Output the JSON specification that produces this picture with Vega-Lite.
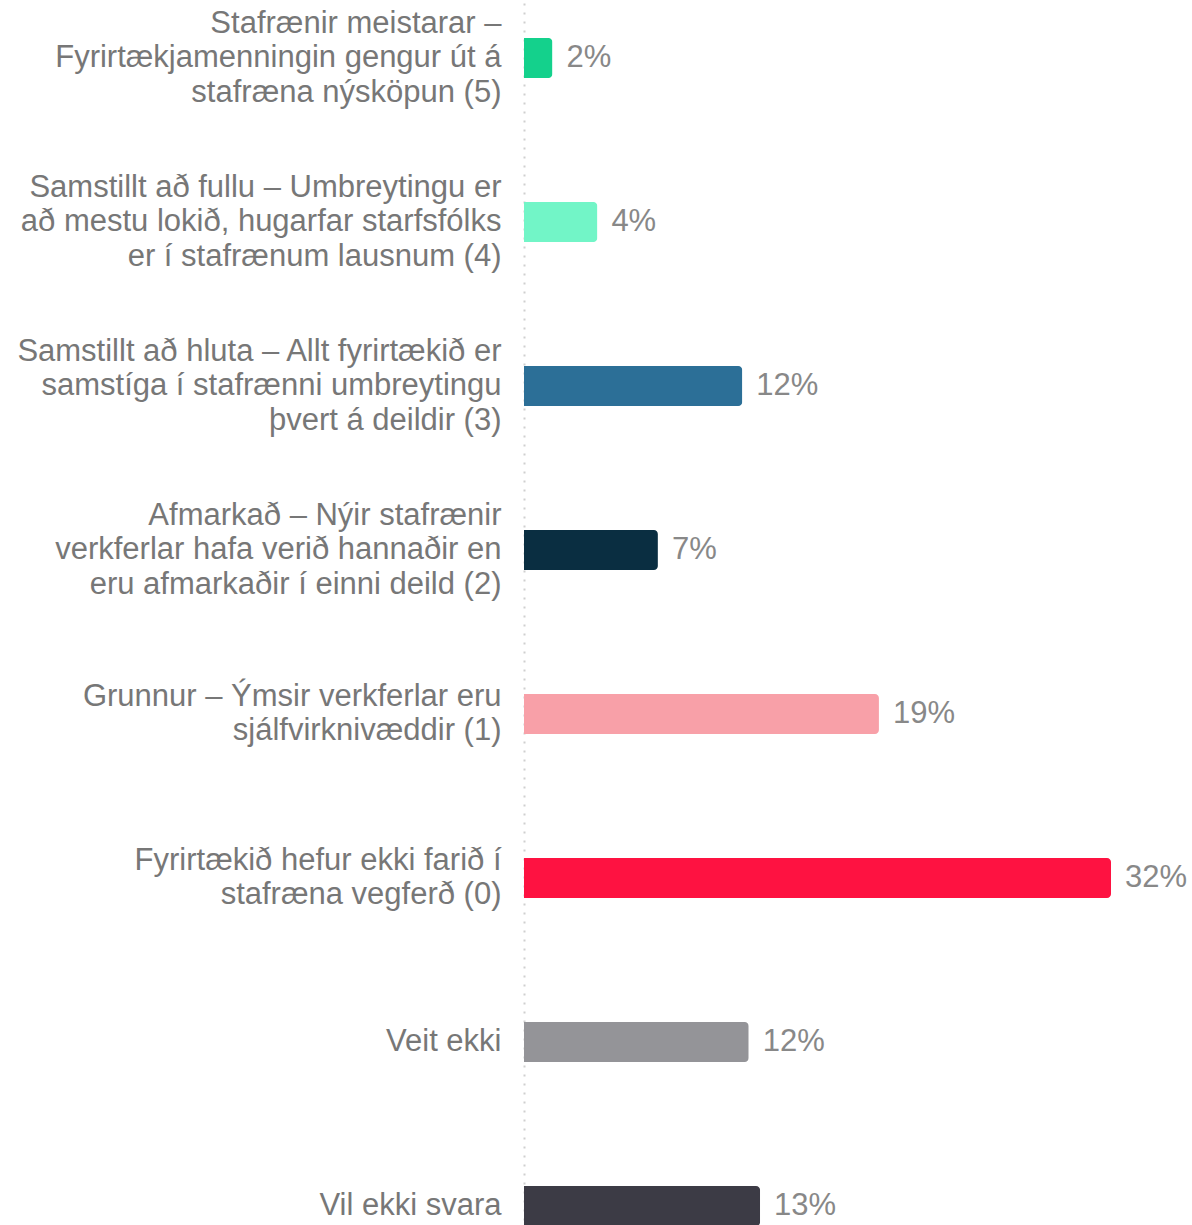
{
  "$schema": "https://vega.github.io/schema/vega-lite/v6.json",
  "width": 587,
  "height": 1312,
  "autosize": {"type": "none"},
  "padding": {"left": 524, "top": -24, "right": 81, "bottom": -63},
  "background": "#ffffff",
  "data": {
    "values": [
      {"cat": "Stafrænir meistarar –\nFyrirtækjamenningin gengur út á\nstafræna nýsköpun (5)", "pct": 1.55, "label": "2%", "color": "#14d18c"},
      {"cat": "Samstillt að fullu – Umbreytingu er\nað mestu lokið, hugarfar starfsfólks\ner í stafrænum lausnum (4)", "pct": 4.0, "label": "4%", "color": "#72f5c7"},
      {"cat": "Samstillt að hluta – Allt fyrirtækið er\nsamstíga í stafrænni umbreytingu\nþvert á deildir (3)", "pct": 11.9, "label": "12%", "color": "#2c6f97"},
      {"cat": "Afmarkað – Nýir stafrænir\nverkferlar hafa verið hannaðir en\neru afmarkaðir í einni deild (2)", "pct": 7.3, "label": "7%", "color": "#0a2e41"},
      {"cat": "Grunnur – Ýmsir verkferlar eru\nsjálfvirknivæddir (1)", "pct": 19.35, "label": "19%", "color": "#f8a0a8"},
      {"cat": "Fyrirtækið hefur ekki farið í\nstafræna vegferð (0)", "pct": 32.0, "label": "32%", "color": "#fe1241"},
      {"cat": "Veit ekki", "pct": 12.25, "label": "12%", "color": "#949498"},
      {"cat": "Vil ekki svara", "pct": 12.87, "label": "13%", "color": "#3c3b45"}
    ]
  },
  "encoding": {
    "y": {
      "field": "cat",
      "type": "nominal",
      "sort": null,
      "scale": {"paddingInner": 0, "paddingOuter": 0},
      "axis": {
        "title": null,
        "ticks": false,
        "labelExpr": "split(datum.label, '\\n')",
        "labelFont": "Liberation Sans",
        "labelFontSize": 31,
        "labelLineHeight": 34.5,
        "labelColor": "#777777",
        "labelPadding": 23,
        "labelLimit": 0,
        "labelBaseline": "middle",
        "labelOffset": {
          "condition": [
            {"test": "length(split(datum.value, '\\n')) == 3", "value": -34.5},
            {"test": "length(split(datum.value, '\\n')) == 2", "value": -17.25}
          ],
          "value": 0
        },
        "domainColor": "#cfcfcf",
        "domainDash": [2, 7],
        "domainWidth": 2
      }
    },
    "x": {
      "field": "pct",
      "type": "quantitative",
      "scale": {"domain": [0, 32], "nice": false},
      "axis": null
    }
  },
  "layer": [
    {
      "mark": {"type": "bar", "height": 40, "cornerRadiusEnd": 4},
      "encoding": {
        "color": {"field": "color", "type": "nominal", "scale": null, "legend": null}
      }
    },
    {
      "mark": {"type": "text", "align": "left", "baseline": "middle", "dx": 14, "font": "Liberation Sans", "fontSize": 31, "color": "#888888"},
      "encoding": {"text": {"field": "label"}}
    }
  ],
  "config": {"view": {"stroke": null}}
}
